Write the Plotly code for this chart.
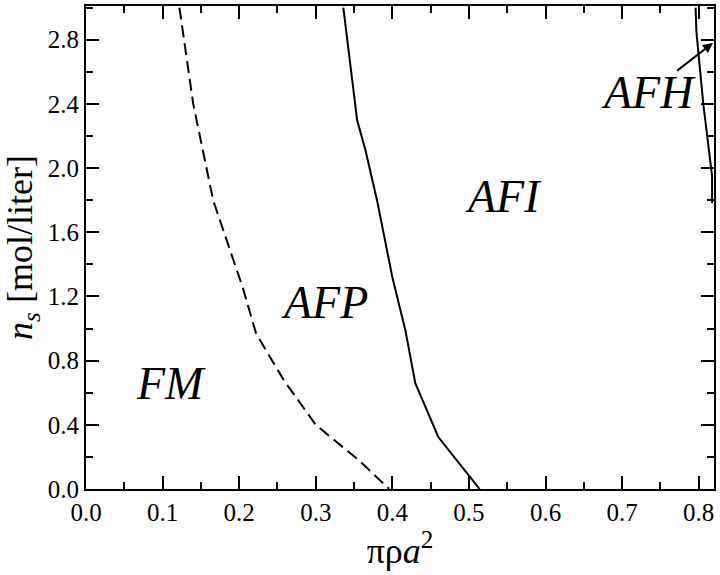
import plotly.graph_objects as go

# FM / AFP boundary (dashed)
fm_afp_x = [0.122, 0.140, 0.166, 0.188, 0.205, 0.222, 0.258, 0.300, 0.356, 0.396]
fm_afp_y = [3.00, 2.40, 1.80, 1.49, 1.25, 0.97, 0.68, 0.40, 0.18, 0.00]

# AFP / AFI boundary (solid)
afp_afi_x = [0.336, 0.354, 0.365, 0.380, 0.400, 0.417, 0.430, 0.460, 0.514]
afp_afi_y = [3.00, 2.30, 2.11, 1.80, 1.32, 0.99, 0.66, 0.324, 0.00]

# AFI / AFH boundary (solid)
afi_afh_x = [0.796, 0.797, 0.806, 0.8175, 0.8175]
afi_afh_y = [3.00, 2.85, 2.40, 1.95, 1.78]

region_labels = ["FM", "AFP", "AFI", "AFH"]
region_x = [0.111, 0.311, 0.545, 0.735]
region_y = [0.66, 1.16, 1.82, 2.47]

x_ticks = [0.0, 0.1, 0.2, 0.3, 0.4, 0.5, 0.6, 0.7, 0.8]
x_tick_labels = ["0.0", "0.1", "0.2", "0.3", "0.4", "0.5", "0.6", "0.7", "0.8"]
y_ticks = [0.0, 0.4, 0.8, 1.2, 1.6, 2.0, 2.4, 2.8]
y_tick_labels = ["0.0", "0.4", "0.8", "1.2", "1.6", "2.0", "2.4", "2.8"]

FONT = '"Liberation Serif", "Times New Roman", Times, "DejaVu Serif", serif'

fig = go.Figure()
fig.add_trace(go.Scatter(x=fm_afp_x, y=fm_afp_y, mode="lines",
                         line=dict(color="black", width=2, dash="12px,6px"),
                         showlegend=False, hoverinfo="skip"))
fig.add_trace(go.Scatter(x=afp_afi_x, y=afp_afi_y, mode="lines",
                         line=dict(color="black", width=2),
                         showlegend=False, hoverinfo="skip"))
fig.add_trace(go.Scatter(x=afi_afh_x, y=afi_afh_y, mode="lines",
                         line=dict(color="black", width=2),
                         showlegend=False, hoverinfo="skip"))

for t, x, y in zip(region_labels, region_x, region_y):
    fig.add_annotation(x=x, y=y, text="<i>%s</i>" % t, showarrow=False,
                       font=dict(family=FONT, size=46, color="black"),
                       xanchor="center", yanchor="middle")

# arrow pointing to the AFH region
fig.add_annotation(x=0.8185, y=2.78, ax=0.770, ay=2.60, axref="x", ayref="y",
                   text="", showarrow=True, arrowhead=2, arrowsize=1,
                   arrowwidth=2, arrowcolor="black", standoff=0)

axis_common = dict(
    showline=True, linecolor="black", linewidth=2, mirror="allticks",
    ticks="inside", ticklen=13, tickwidth=2, tickcolor="black",
    showgrid=False, zeroline=False, automargin=False,
    tickfont=dict(family=FONT, size=25, color="black"),
)

fig.update_xaxes(range=[0, 0.82], tickvals=x_ticks, ticktext=x_tick_labels,
                 minor=dict(ticks="inside", ticklen=7, tickwidth=2, tickcolor="black", dtick=0.05, tick0=0),
                 title=dict(text="πρ<i>a</i><sup>2</sup>", font=dict(family=FONT, size=36, color="black"), standoff=8),
                 **axis_common)
fig.update_yaxes(range=[0, 3.01], tickvals=y_ticks, ticktext=y_tick_labels,
                 minor=dict(ticks="inside", ticklen=7, tickwidth=2, tickcolor="black", dtick=0.2, tick0=0),
                 title=dict(text="<i>n</i><sub><i>s</i></sub> [mol/liter]", font=dict(family=FONT, size=36, color="black"), standoff=8),
                 **axis_common)

fig.update_layout(width=720, height=575, margin=dict(l=86, r=6, t=6, b=86),
                  font=dict(family=FONT, color="black"),
                  plot_bgcolor="white", paper_bgcolor="white")

fig.write_html("out.html", config={"displayModeBar": False},
               post_script="document.body.style.margin='0';")
